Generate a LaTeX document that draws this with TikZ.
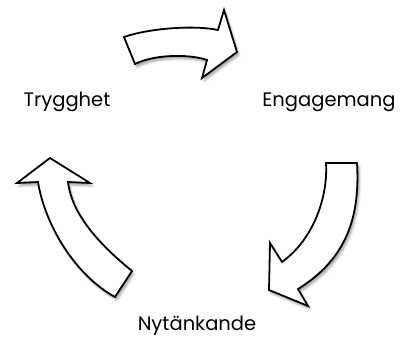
\documentclass[tikz,border=0pt]{standalone}
\usepackage{fontspec}
\setmainfont{Poppins}
\usetikzlibrary{shadows.blur}

\tikzset{
  cyclearrow/.style={draw=black, line width=1.8pt, fill=white, line join=miter,
    blur shadow={shadow xshift=2pt, shadow yshift=-3pt, shadow blur steps=6, shadow opacity=35}},
  stage/.style={font=\fontsize{19.5}{23}\selectfont, inner sep=0pt}
}

\begin{document}
\begin{tikzpicture}[x=1pt, y=-1pt]
  \useasboundingbox (0,0) rectangle (406,341);

  % Fleche haut
  \path[cyclearrow] (124,37) .. controls (150,28) and (195,25) .. (218,30)
    -- (224,10) -- (237,52) -- (202,78) -- (207,60)
    .. controls (190,54) and (155,54) .. (135,64) -- cycle;

  % Fleche droite
  \path[cyclearrow] (326,163) -- (357,163) .. controls (360,215) and (348,258) .. (298,289)
    -- (308,306) -- (269,290) -- (270,243) -- (282,262)
    .. controls (315,238) and (328,195) .. cycle;

  % Fleche gauche
  \path[cyclearrow] (132,271) .. controls (100,245) and (72,215) .. (68,182)
    -- (90,183) -- (50,158) -- (17,183) -- (38,182)
    .. controls (45,225) and (75,275) .. (115,297) -- cycle;

  % Etapes
  \node[stage] (trygghet) at (67,102) {Trygghet};
  \node[stage] (engagemang) at (329,102) {Engagemang};
  \node[stage] (nytankande) at (197,326) {Nytänkande};

\end{tikzpicture}
\end{document}
